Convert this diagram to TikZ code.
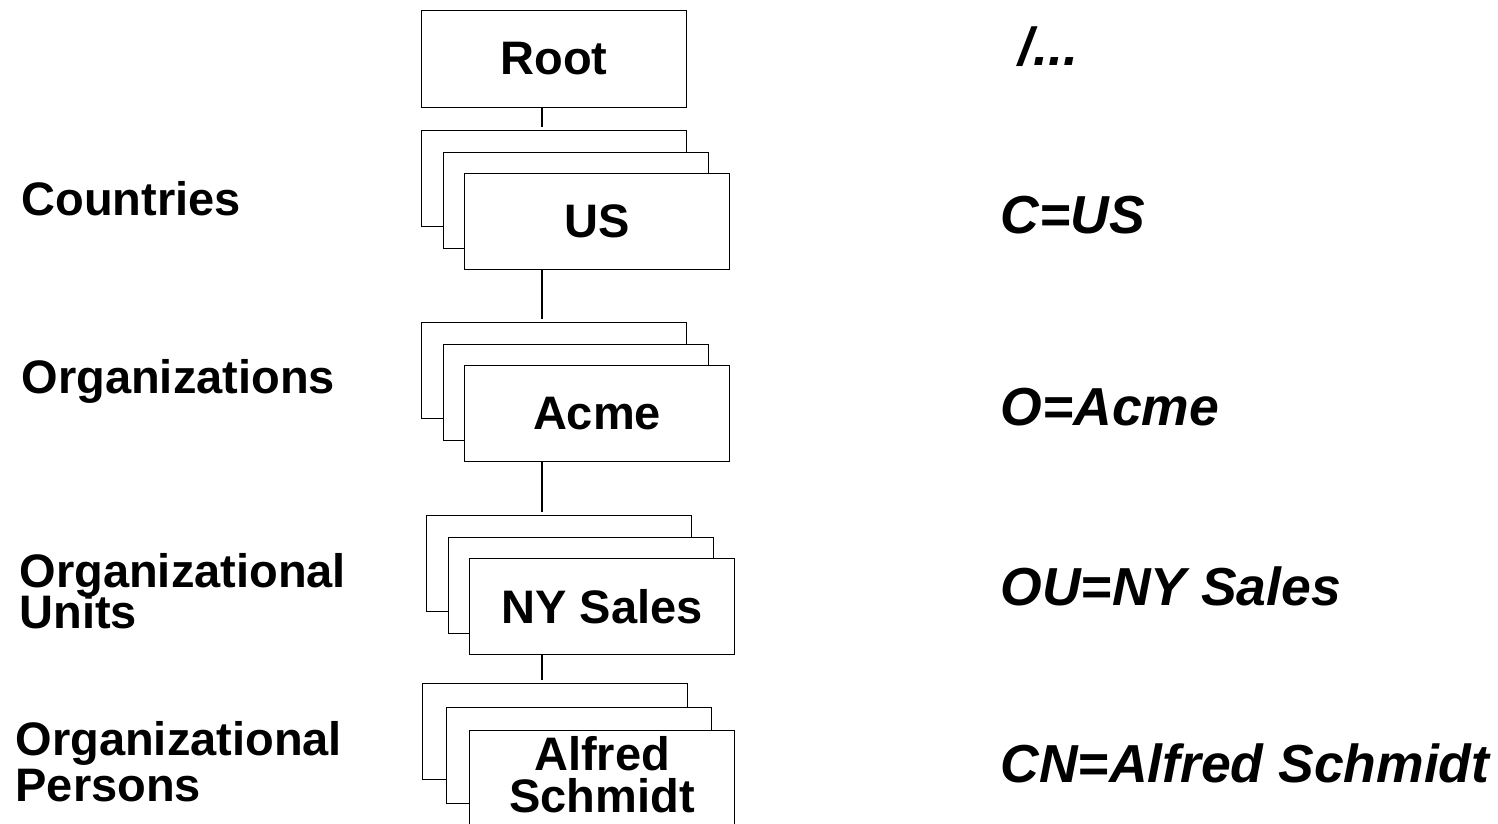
\documentclass[tikz,border=0pt]{standalone}
\usepackage{fontspec}
\setmainfont{Liberation Sans}
\begin{document}
\begin{tikzpicture}[x=1pt,y=-1pt, line width=1.1pt,
  card/.style={draw, fill=white, minimum width=265pt, minimum height=96pt, inner sep=0pt, anchor=north west, font=\bfseries\fontsize{47}{42}\selectfont, align=center},
  lvl/.style={anchor=base west, font=\bfseries\fontsize{47}{40}\selectfont, inner sep=0pt},
  dn/.style={anchor=base west, font=\bfseries\itshape\fontsize{53.5}{53}\selectfont, inner sep=0pt},
  link/.style={draw, shorten >=3pt}]
\useasboundingbox (0,0) rectangle (1498,823);
\newcommand\mystack[5]{%
  \node[card] (#1c) at (#2,#3) {};
  \node[card] (#1b) at (#2+#4,#3+#4) {};
  \node[card] (#1) at (#2+2*#4,#3+2*#4) {#5};
}
\node[card, minimum height=97pt] (root) at (421,10) {Root};
\mystack{us}{421}{130}{21.5}{US}
\mystack{acme}{421}{322}{21.5}{Acme}
\mystack{ny}{426}{515}{21.5}{NY Sales}
\mystack{alf}{422}{683}{23.5}{}
\node[font=\bfseries\fontsize{47}{42}\selectfont, align=center, inner sep=0pt] (alft) at ([yshift=4pt]alf.center) {Alfred\\Schmidt};
\coordinate (spine) at (542,0);
\draw[link] (root.south -| spine) -- (usc.north -| spine);
\draw[link] (us.south -| spine) -- (acmec.north -| spine);
\draw[link] (acme.south -| spine) -- (nyc.north -| spine);
\draw[link] (ny.south -| spine) -- (alfc.north -| spine);
% level labels
\node[lvl] (lc) at (21,215) {Countries};
\node[lvl] (lo) at (21,393) {Organizations};
\node[lvl] (lu1) at (19,587) {Organizational};
\node[lvl] (lu2) at (19,628) {Units};
\node[lvl] (lp1) at (15,755) {Organizational};
\node[lvl] (lp2) at (15,801) {Persons};
% names
\node[dn] (nroot) at (1018,65) {/...};
\node[dn] (nc) at (1000,233) {C=US};
\node[dn] (no) at (1000,425) {O=Acme};
\node[dn] (nou) at (1000,605) {OU=NY Sales};
\node[dn] (ncn) at (1000,782) {CN=Alfred Schmidt};
\end{tikzpicture}
\end{document}
